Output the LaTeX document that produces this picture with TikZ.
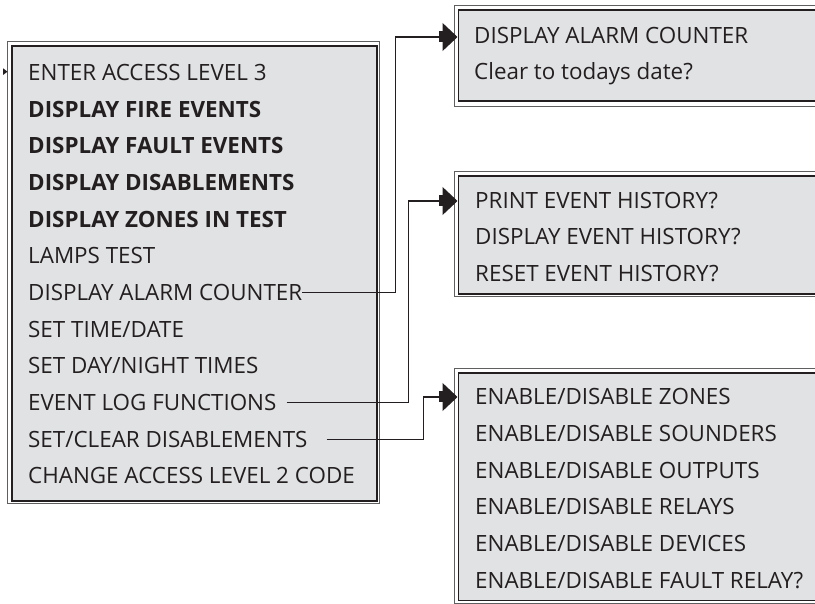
\documentclass[tikz,border=0pt]{standalone}
\usepackage{fontspec}
\setmainfont{Open Sans}
\usetikzlibrary{arrows.meta}
\definecolor{boxfill}{RGB}{225,226,228}
\definecolor{ink}{RGB}{35,31,32}
\definecolor{outerline}{RGB}{95,95,95}
\tikzset{
  panel/.style={draw=ink, line width=1.6pt, fill=boxfill, anchor=north west, inner sep=0pt},
  outerframe/.style={draw=outerline, line width=0.9pt},
  item/.style={anchor=base west, inner sep=0pt, text=ink, font=\fontsize{22.4}{26}\selectfont},
  bolditem/.style={item, font=\fontsize{22.4}{26}\selectfont\bfseries},
  link/.style={draw=ink, line width=1.1pt, -{Rectangle[length=4pt,width=11pt,sep=0pt] Triangle[length=15pt,width=28pt]}},
}
\begin{document}
\begin{tikzpicture}[x=1pt,y=-1pt]
\useasboundingbox (0,0) rectangle (815,604);
\clip (0,0) rectangle (815,604);
% panels
\draw[outerframe] (7.5,41.5) rectangle (379.5,503.5);
\node[panel, minimum width=365pt, minimum height=455pt] (main) at (11,45) {};
\draw[outerframe] (454,5.5) rectangle (840,106);
\node[panel, minimum width=380pt, minimum height=91pt] (b1) at (457.5,9) {};
\draw[outerframe] (454,171.5) rectangle (840,296.5);
\node[panel, minimum width=380pt, minimum height=118pt] (b2) at (457.5,175) {};
\draw[outerframe] (454,368) rectangle (840,603);
\node[panel, minimum width=380pt, minimum height=227.5pt] (b3) at (457.5,372) {};
% marker at left
\fill[ink] (3,68.3) -- (7.5,71.7) -- (3,75) -- cycle;
% main menu
\node[item]     (m1)  at (28,80.5)  {ENTER ACCESS LEVEL 3};
\node[bolditem] (m2)  at (28,117.2) {DISPLAY FIRE EVENTS};
\node[bolditem] (m3)  at (28,153.8) {DISPLAY FAULT EVENTS};
\node[bolditem] (m4)  at (28,190.5) {DISPLAY DISABLEMENTS};
\node[bolditem] (m5)  at (28,227.1) {DISPLAY ZONES IN TEST};
\node[item]     (m6)  at (28,263.8) {LAMPS TEST};
\node[item]     (m7)  at (28,300.5) {DISPLAY ALARM COUNTER};
\node[item]     (m8)  at (28,337.1) {SET TIME/DATE};
\node[item]     (m9)  at (28,373.8) {SET DAY/NIGHT TIMES};
\node[item]     (m10) at (28,410.5) {EVENT LOG FUNCTIONS};
\node[item]     (m11) at (28,447.1) {SET/CLEAR DISABLEMENTS};
\node[item]     (m12) at (28,483.8) {CHANGE ACCESS LEVEL 2 CODE};
% box 1
\node[item] (a1) at (474,43.5) {DISPLAY ALARM COUNTER};
\node[item] (a2) at (474,80) {Clear to todays date?};
% box 2
\node[item] (e1) at (475,208.5) {PRINT EVENT HISTORY?};
\node[item] (e2) at (475,245) {DISPLAY EVENT HISTORY?};
\node[item] (e3) at (475,281.7) {RESET EVENT HISTORY?};
% box 3
\node[item] (d1) at (475,405)   {ENABLE/DISABLE ZONES};
\node[item] (d2) at (475,441.6) {ENABLE/DISABLE SOUNDERS};
\node[item] (d3) at (475,478.2) {ENABLE/DISABLE OUTPUTS};
\node[item] (d4) at (475,514.8) {ENABLE/DISABLE RELAYS};
\node[item] (d5) at (475,551.4) {ENABLE/DISABLE DEVICES};
\node[item] (d6) at (475,588)   {ENABLE/DISABLE FAULT RELAY?};
% connectors
\coordinate (j1) at (395.7,37);
\coordinate (j2) at (408.3,201);
\coordinate (j3) at (423.5,397);
\draw[link] (m7.east) -| (j1) -- (j1 -| b1.west);
\draw[link] ([xshift=10pt]m10.east) -| (j2) -- (j2 -| b2.west);
\draw[link] ([xshift=19pt]m11.east) -| (j3) -- (j3 -| b3.west);
\end{tikzpicture}
\end{document}
